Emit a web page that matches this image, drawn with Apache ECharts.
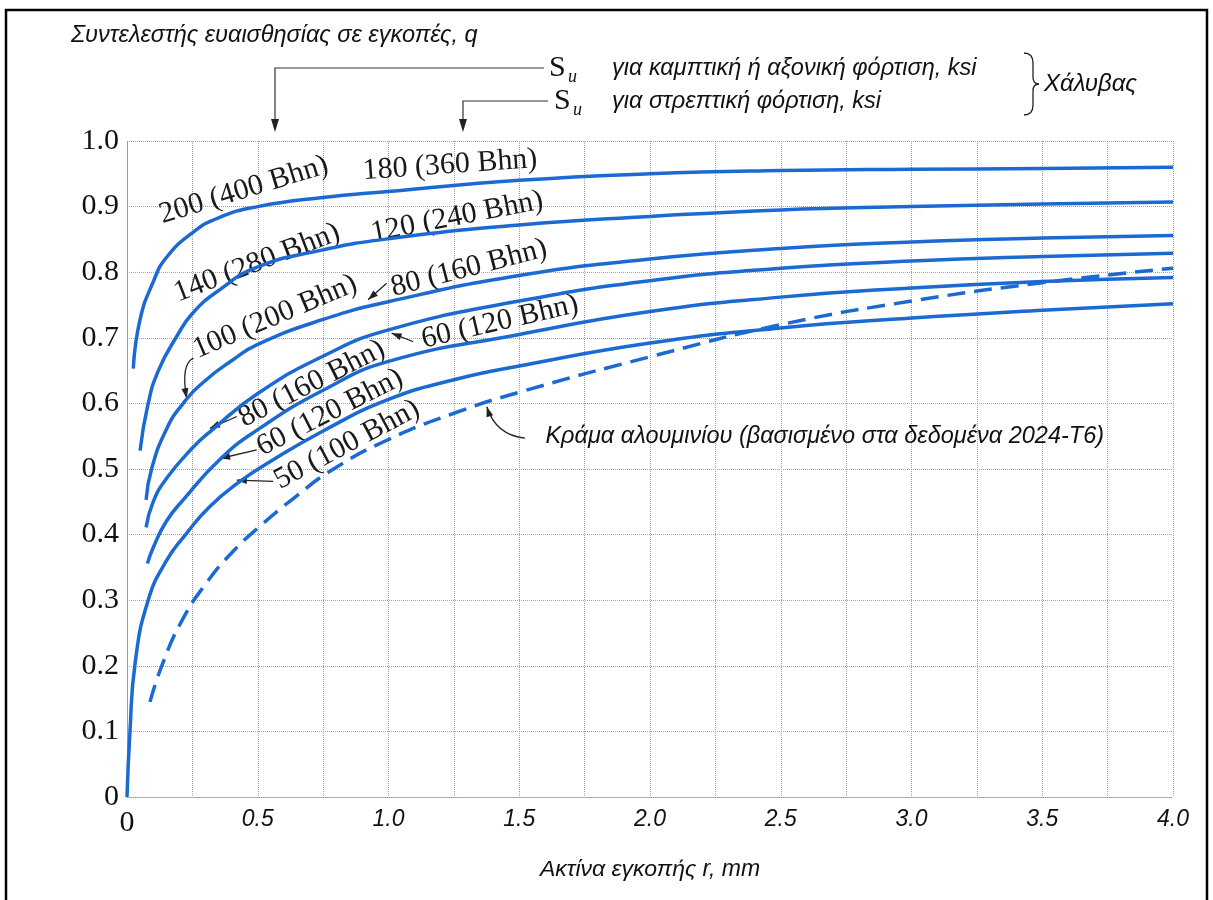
<!DOCTYPE html>
<html>
<head>
<meta charset="utf-8">
<title>Συντελεστής ευαισθησίας σε εγκοπές</title>
<script src="https://cdn.jsdelivr.net/npm/echarts@6/dist/echarts.min.js"></script>
<style>
  html, body { margin: 0; padding: 0; background: #fff; }
  #chart { width: 1213px; height: 900px; }
</style>
</head>
<body>
<div id="chart"></div>
<script>
// notch radius r (mm) and sensitivity q
var xTickLabels = ["0", "0.5", "1.0", "1.5", "2.0", "2.5", "3.0", "3.5", "4.0"];
var yTickLabels = ["0", "0.1", "0.2", "0.3", "0.4", "0.5", "0.6", "0.7", "0.8", "0.9", "1.0"];

// 200 (400 Bhn) bending / 180 (360 Bhn) torsion
var r200 = [0.024, 0.05, 0.1, 0.15, 0.25, 0.35, 0.5, 0.75, 1.0, 1.5, 2.0, 2.5, 3.0, 3.5, 4.0];
var q200 = [0.653, 0.728, 0.785, 0.822, 0.86, 0.883, 0.9, 0.914, 0.923, 0.94, 0.95, 0.955, 0.957, 0.958, 0.96];
// 140 (280 Bhn) / 120 (240 Bhn)
var r140 = [0.05, 0.08, 0.12, 0.19, 0.25, 0.35, 0.5, 0.75, 1.0, 1.5, 2.0, 2.5, 3.0, 3.5, 4.0];
var q140 = [0.528, 0.598, 0.65, 0.702, 0.737, 0.772, 0.808, 0.834, 0.851, 0.872, 0.885, 0.895, 0.9, 0.904, 0.907];
// 100 (200 Bhn) / 80 (160 Bhn)
var r100 = [0.073, 0.094, 0.15, 0.215, 0.3, 0.4, 0.5, 0.75, 1.0, 1.5, 2.0, 2.5, 3.0, 3.5, 4.0];
var q100 = [0.453, 0.5, 0.56, 0.6, 0.635, 0.665, 0.69, 0.728, 0.755, 0.795, 0.82, 0.836, 0.846, 0.852, 0.856];
// 80 (160 Bhn) / 60 (120 Bhn)
var r80 = [0.073, 0.1, 0.15, 0.25, 0.324, 0.5, 0.75, 1.0, 1.5, 2.0, 2.5, 3.0, 3.5, 4.0];
var q80 = [0.411, 0.45, 0.485, 0.532, 0.559, 0.615, 0.672, 0.712, 0.756, 0.787, 0.806, 0.817, 0.824, 0.829];
// 60 (120 Bhn)
var r60 = [0.078, 0.1, 0.15, 0.215, 0.356, 0.5, 0.75, 1.0, 1.5, 2.0, 2.5, 3.0, 3.5, 4.0];
var q60 = [0.356, 0.38, 0.42, 0.453, 0.515, 0.56, 0.62, 0.664, 0.705, 0.74, 0.762, 0.776, 0.786, 0.792];
// 50 (100 Bhn)
var r50 = [0, 0.011, 0.031, 0.081, 0.152, 0.228, 0.317, 0.432, 0.534, 0.75, 1.0, 1.25, 1.5, 2.0, 2.5, 3.0, 3.5, 4.0];
var q50 = [0, 0.097, 0.204, 0.3, 0.361, 0.402, 0.443, 0.481, 0.508, 0.558, 0.606, 0.636, 0.657, 0.692, 0.715, 0.73, 0.742, 0.752];
// aluminium alloy (2024-T6), dashed
var rAl = [0.088, 0.133, 0.209, 0.305, 0.407, 0.509, 0.636, 0.79, 1.0, 1.25, 1.5, 2.0, 2.5, 3.0, 3.5, 4.0];
var qAl = [0.145, 0.2, 0.268, 0.327, 0.375, 0.413, 0.455, 0.5, 0.545, 0.585, 0.617, 0.671, 0.72, 0.756, 0.784, 0.806];

// labels on the curves, in chart units (r, q) + tilt in degrees
var curveNotes = [
  { text: "200 (400 Bhn)", at: [0.447, 0.925], angle: 17 },
  { text: "180 (360 Bhn)", at: [1.235, 0.963], angle: 4 },
  { text: "140 (280 Bhn)", at: [0.497, 0.814], angle: 21 },
  { text: "120 (240 Bhn)", at: [1.262, 0.884], angle: 11 },
  { text: "100 (200 Bhn)", at: [0.566, 0.732], angle: 23 },
  { text: "80 (160 Bhn)", at: [1.308, 0.806], angle: 14.5 },
  { text: "60 (120 Bhn)", at: [1.426, 0.724], angle: 13 },
  { text: "80 (160 Bhn)", at: [0.707, 0.63], angle: 27 },
  { text: "60 (120 Bhn)", at: [0.776, 0.586], angle: 27 },
  { text: "50 (100 Bhn)", at: [0.841, 0.537], angle: 28 }
];
var straightArrows = [
  { from: [0.993, 0.783], to: [0.922, 0.758] },
  { from: [1.095, 0.694], to: [1.012, 0.707] },
  { from: [0.42, 0.58], to: [0.317, 0.562] },
  { from: [0.496, 0.529], to: [0.356, 0.516] },
  { from: [0.559, 0.481], to: [0.42, 0.483] }
];
var curvedArrows = [
  { from: [0.254, 0.669], ctrl: [0.205, 0.66], to: [0.228, 0.608] },
  { from: [1.522, 0.547], ctrl: [1.41, 0.552], to: [1.376, 0.595] }
];

var blue = "#1b69d2";

function pairs(xs, ys) {
  return xs.map(function (x, i) { return [x, ys[i]]; });
}

function curve(name, xs, ys, dashed) {
  return {
    name: name,
    type: "line",
    data: pairs(xs, ys),
    showSymbol: false,
    smooth: 0.5,
    silent: true,
    lineStyle: { color: blue, width: 3.5, type: dashed ? [18, 9] : "solid", cap: "butt" }
  };
}

var chart = echarts.init(document.getElementById("chart"));

chart.setOption({
  animation: false,
  backgroundColor: "#ffffff",
  title: {
    text: "Συντελεστής ευαισθησίας σε εγκοπές, q",
    left: 66,
    top: 19,
    textStyle: { fontFamily: "Liberation Sans", fontStyle: "italic", fontWeight: "normal", fontSize: 23.5, color: "#111" }
  },
  grid: { left: 127, right: 40, top: 141, bottom: 103 },
  xAxis: {
    type: "value",
    min: 0,
    max: 4,
    interval: 0.25,
    name: "Ακτίνα εγκοπής r, mm",
    nameLocation: "middle",
    nameGap: 61,
    nameTextStyle: { fontFamily: "Liberation Sans", fontStyle: "italic", fontSize: 23, color: "#111" },
    axisLine: { show: true, lineStyle: { color: "#9a9a9a", type: "dotted", width: 1 } },
    axisTick: { show: false },
    splitLine: { show: true, lineStyle: { color: "#a3a3a3", type: "dotted", width: 1 } },
    axisLabel: {
      margin: 11,
      formatter: function (v) {
        var k = Math.round(v * 2);
        if (Math.abs(v * 2 - k) > 1e-6) return "";
        return k === 0 ? "{z|" + xTickLabels[0] + "}" : "{i|" + xTickLabels[k] + "}";
      },
      rich: {
        z: { fontFamily: "Liberation Serif", fontSize: 30, color: "#111" },
        i: { fontFamily: "Liberation Sans", fontStyle: "italic", fontSize: 23, color: "#111" }
      }
    }
  },
  yAxis: {
    type: "value",
    min: 0,
    max: 1,
    interval: 0.1,
    axisLine: { show: true, lineStyle: { color: "#9a9a9a", type: "dotted", width: 1 } },
    axisTick: { show: false },
    splitLine: { show: true, lineStyle: { color: "#a3a3a3", type: "dotted", width: 1 } },
    axisLabel: {
      margin: 8,
      fontFamily: "Liberation Serif",
      fontSize: 30,
      color: "#111",
      formatter: function (v) { return yTickLabels[Math.round(v * 10)]; }
    }
  },
  series: [
    curve("200", r200, q200),
    curve("140", r140, q140),
    curve("100", r100, q100),
    curve("80", r80, q80),
    curve("60", r60, q60),
    curve("50", r50, q50),
    curve("Al", rAl, qAl, true)
  ]
});

function pt(p) {
  return chart.convertToPixel({ gridIndex: 0 }, p);
}

function arrowHead(tip, from, len, half) {
  var dx = tip[0] - from[0], dy = tip[1] - from[1];
  var d = Math.sqrt(dx * dx + dy * dy) || 1;
  var ux = dx / d, uy = dy / d;
  var bx = tip[0] - ux * len, by = tip[1] - uy * len;
  return {
    type: "polygon",
    shape: { points: [tip, [bx - uy * half, by + ux * half], [bx + uy * half, by - ux * half]] },
    style: { fill: "#222" }
  };
}

function stroke(w) {
  return { stroke: "#222", lineWidth: w, fill: null };
}

function buildGraphics() {
  var els = [];
  var serif = "30px 'Liberation Serif'";
  var sans = "italic 23.5px 'Liberation Sans'";

  // outer frame
  els.push({ type: "rect", shape: { x: 6, y: 10, width: 1201, height: 896 }, style: { fill: null, stroke: "#000", lineWidth: 2.5 }, silent: true });

  curveNotes.forEach(function (n) {
    var p = pt(n.at);
    els.push({
      type: "text", x: p[0], y: p[1], rotation: n.angle * Math.PI / 180,
      style: { text: n.text, font: serif, fill: "#1a1a1a", align: "center", verticalAlign: "middle" }
    });
  });

  straightArrows.forEach(function (a) {
    var f = pt(a.from), t = pt(a.to);
    els.push({ type: "line", shape: { x1: f[0], y1: f[1], x2: t[0], y2: t[1] }, style: stroke(1.3) });
    els.push(arrowHead(t, f, 10, 3.5));
  });

  curvedArrows.forEach(function (a) {
    var f = pt(a.from), c = pt(a.ctrl), t = pt(a.to);
    els.push({ type: "bezierCurve", shape: { x1: f[0], y1: f[1], cpx1: c[0], cpy1: c[1], x2: t[0], y2: t[1] }, style: stroke(1.3) });
    els.push(arrowHead(t, c, 10, 3.5));
  });

  // aluminium note
  var al = pt([1.6, 0.549]);
  els.push({ type: "text", x: al[0], y: al[1], style: { text: "Κράμα αλουμινίου (βασισμένο στα δεδομένα 2024-T6)", font: sans, fill: "#111", align: "left", verticalAlign: "middle" } });

  // header: Su pointers
  els.push({ type: "polyline", shape: { points: [[544, 68], [275, 68], [275, 120]] }, style: { stroke: "#333", lineWidth: 1.2, fill: null } });
  els.push(arrowHead([275, 132], [275, 100], 13, 4));
  els.push({ type: "polyline", shape: { points: [[548, 101], [463, 101], [463, 120]] }, style: { stroke: "#333", lineWidth: 1.2, fill: null } });
  els.push(arrowHead([463, 132], [463, 100], 13, 4));

  els.push({ type: "text", x: 549, y: 68, style: { text: "S", font: "30px 'Liberation Serif'", fill: "#111", align: "left", verticalAlign: "middle" } });
  els.push({ type: "text", x: 568, y: 77, style: { text: "u", font: "italic 18px 'Liberation Serif'", fill: "#111", align: "left", verticalAlign: "middle" } });
  els.push({ type: "text", x: 554, y: 101, style: { text: "S", font: "30px 'Liberation Serif'", fill: "#111", align: "left", verticalAlign: "middle" } });
  els.push({ type: "text", x: 573, y: 110, style: { text: "u", font: "italic 18px 'Liberation Serif'", fill: "#111", align: "left", verticalAlign: "middle" } });

  els.push({ type: "text", x: 612, y: 68, style: { text: "για καμπτική ή αξονική φόρτιση, ksi", font: sans, fill: "#111", align: "left", verticalAlign: "middle" } });
  els.push({ type: "text", x: 612, y: 101, style: { text: "για στρεπτική φόρτιση, ksi", font: sans, fill: "#111", align: "left", verticalAlign: "middle" } });

  // steel brace "}"
  var bx = 1024, by = 53;
  var brace = [
    [[0, 0], [9, 0], [9, 10]],
    [[9, 24], [9, 31], [15, 31]],
    [[15, 31], [9, 31], [9, 38]],
    [[9, 52], [9, 62], [0, 62]]
  ];
  brace.forEach(function (b) {
    els.push({ type: "bezierCurve", shape: { x1: bx + b[0][0], y1: by + b[0][1], cpx1: bx + b[1][0], cpy1: by + b[1][1], x2: bx + b[2][0], y2: by + b[2][1] }, style: stroke(1.3) });
  });
  els.push({ type: "line", shape: { x1: bx + 9, y1: by + 10, x2: bx + 9, y2: by + 24 }, style: stroke(1.3) });
  els.push({ type: "line", shape: { x1: bx + 9, y1: by + 38, x2: bx + 9, y2: by + 52 }, style: stroke(1.3) });
  els.push({ type: "text", x: 1044, y: 84, style: { text: "Χάλυβας", font: "italic 24px 'Liberation Sans'", fill: "#111", align: "left", verticalAlign: "middle" } });

  chart.setOption({ graphic: { elements: els } });
}

buildGraphics();
</script>
</body>
</html>
